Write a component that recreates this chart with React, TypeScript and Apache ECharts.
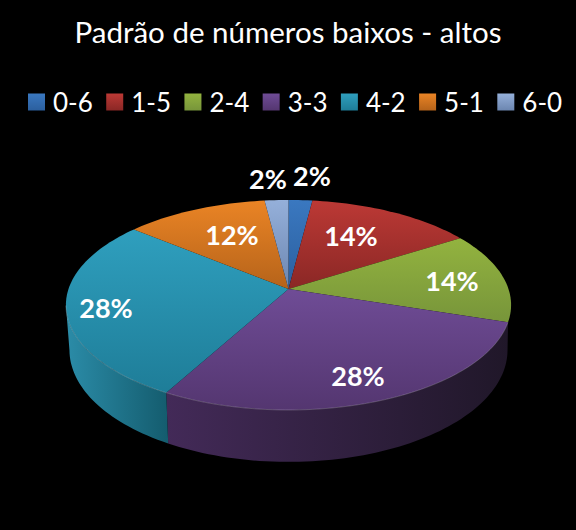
import React, { useEffect, useRef } from "react";
import * as echarts from "echarts";

const titleText = "Padrão de números baixos - altos";
const categories = ["0-6", "1-5", "2-4", "3-3", "4-2", "5-1", "6-0"];
const values = [2, 14, 14, 28, 28, 12, 2];
const labelTexts = ["2%", "14%", "14%", "28%", "28%", "12%", "2%"];

// label centres in page pixels
const labelCentres = [[312, 175], [351, 235], [452, 280], [358, 375], [106, 307], [232, 234], [268, 178]];
const topLight = ["#3A78C0", "#BC3935", "#93B33F", "#6F4C96", "#2F9FBE", "#EA8425", "#95B0DA"];
const topDark = ["#2B5F9E", "#8A2725", "#77953A", "#543670", "#1E7D98", "#B5631A", "#6C86B0"];
const sideLeft = ["#234C80", "#6E1F1D", "#5F772D", "#432A58", "#2B8CA8", "#8F4F14", "#566B8D"];
const sideRight = ["#1A3A60", "#501615", "#485A22", "#201729", "#145C6E", "#6B3B0F", "#40506A"];

const CX = 288.5, CY = 289, R = 220, RK = 102.6, P = 0.152, DROP = 44, BASE_X = 0.984;
const FRONT_START = 108, SILHOUETTE_RIGHT = 99, SILHOUETTE_LEFT = 261;
const total = values.reduce((a, b) => a + b, 0);

function project(deg: number, r = 1, drop = 0) {
  const t = (deg * Math.PI) / 180;
  const X = Math.sin(t) * r;
  const Y = Math.cos(t) * r;
  const den = 1 + P * Y;
  const sx = drop ? BASE_X : 1;
  return [CX + (sx * R * X) / den, CY - (RK * Y) / den + drop / den];
}

function arc(a: number, b: number, drop = 0) {
  const n = Math.max(2, Math.ceil(Math.abs(b - a) / 1.5));
  const pts: number[][] = [];
  for (let i = 0; i <= n; i++) pts.push(project(a + ((b - a) * i) / n, 1, drop));
  return pts;
}

function vGrad(c0: string, c1: string) {
  return new echarts.graphic.LinearGradient(0, 0, 0, 1, [
    { offset: 0, color: c0 },
    { offset: 1, color: c1 },
  ]);
}
function hGrad(c0: string, c1: string) {
  return new echarts.graphic.LinearGradient(0, 0, 1, 0, [
    { offset: 0, color: c0 },
    { offset: 1, color: c1 },
  ]);
}

function sliceRenderer(idx: number) {
  const before = values.slice(0, idx).reduce((a, b) => a + b, 0);
  const start = (before / total) * 360;
  const end = ((before + values[idx]) / total) * 360;
  return () => {
    const children: any[] = [];
    const frontA = Math.max(start, FRONT_START);
    const frontB = Math.min(end, SILHOUETTE_LEFT);
    if (frontB > frontA) {
      const baseFrom = start <= FRONT_START + 0.01 ? SILHOUETTE_RIGHT : frontA;
      const pts = [...arc(frontA, frontB), ...arc(frontB, baseFrom, DROP)];
      children.push({
        type: "polygon",
        z2: 1,
        shape: { points: pts },
        style: { fill: hGrad(sideLeft[idx], sideRight[idx]) },
      });
    }
    children.push({
      type: "polygon",
      z2: 10,
      shape: { points: [[CX, CY], ...arc(start, end)] },
      style: { fill: vGrad(topLight[idx], topDark[idx]) },
    });
    if (frontB > frontA) {
      children.push({
        type: "polyline",
        z2: 20,
        shape: { points: arc(frontA, frontB) },
        style: { fill: "none", stroke: "rgba(255,255,255,0.2)", lineWidth: 1 },
      });
    }
    children.push({
      type: "text",
      z2: 30,
      x: labelCentres[idx][0],
      y: labelCentres[idx][1],
      style: {
        text: labelTexts[idx],
        fill: "#FFFFFF",
        font: "bold 27px Lato",
        align: "center",
        verticalAlign: "middle",
      },
    });
    return { type: "group", children };
  };
}

export default function App() {
  const ref = useRef<HTMLDivElement>(null);
  useEffect(() => {
    const chart = echarts.init(ref.current!, undefined, { renderer: "svg" });
    chart.setOption({
      animation: false,
      backgroundColor: "#000000",
      title: {
        text: titleText,
        left: "center",
        top: 11,
        textStyle: { color: "#FFFFFF", fontFamily: "Lato", fontSize: 29.5, fontWeight: "normal" },
      },
      legend: {
        left: 23,
        top: 84,
        icon: "rect",
        itemWidth: 17,
        itemHeight: 17,
        itemGap: 13.4,
        selectedMode: false,
        textStyle: { color: "#FFFFFF", fontFamily: "Lato", fontSize: 26, padding: [0, 0, 0, 3] },
        data: categories.map((name, i) => ({
          name,
          itemStyle: { color: vGrad(topLight[i], topDark[i]) },
        })),
      },
      series: categories.map((name, i) => ({
        type: "custom",
        name,
        coordinateSystem: "none",
        silent: true,
        itemStyle: { color: topLight[i] },
        data: [values[i]],
        renderItem: sliceRenderer(i),
      })),
    });
    return () => chart.dispose();
  }, []);
  return (
    <div
      ref={ref}
      style={{ position: "absolute", left: 0, top: 0, width: 576, height: 530 }}
    />
  );
}
